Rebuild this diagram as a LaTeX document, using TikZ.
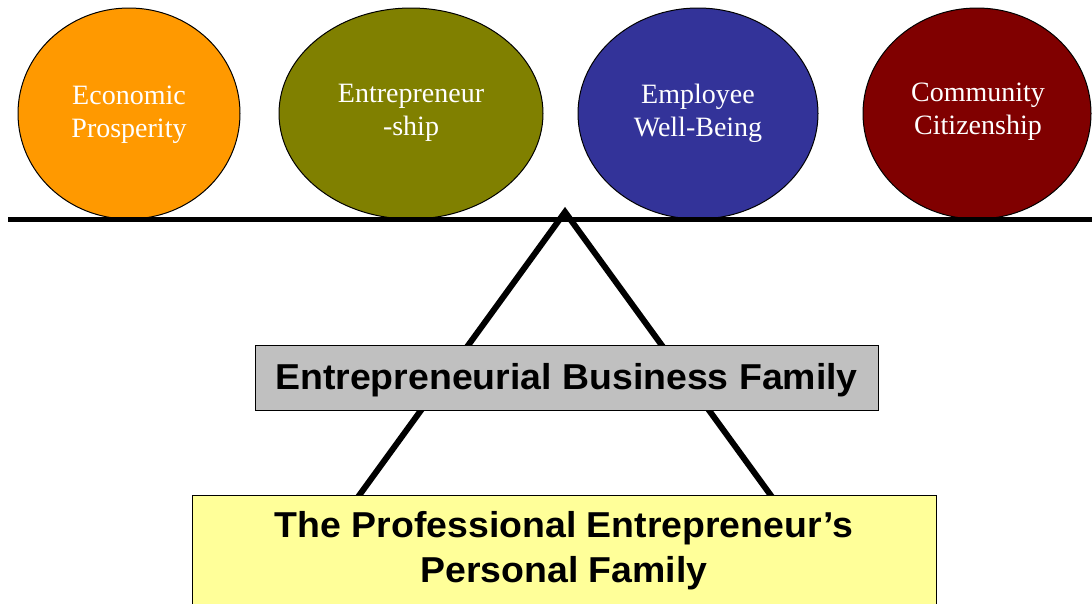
\documentclass[tikz,border=0pt]{standalone}
\usepackage{fontspec}
\setmainfont{Liberation Serif}
\setsansfont{Liberation Sans}
\newfontfamily\boxfont{Liberation Sans Bold}[FakeStretch=1.04]
\usetikzlibrary{shapes.geometric}
\definecolor{corange}{HTML}{FF9900}
\definecolor{colive}{HTML}{808000}
\definecolor{cblue}{HTML}{333399}
\definecolor{cred}{HTML}{800000}
\definecolor{cgray}{HTML}{C0C0C0}
\definecolor{cyellow}{HTML}{FFFF99}
\tikzset{
  ball/.style={ellipse, draw=black, line width=1pt, inner sep=0pt},
  balltext/.style={text=white, font=\fontsize{28}{33}\selectfont, align=center},
  beam/.style={line width=5pt},
  leg/.style={line width=6pt},
  bigbox/.style={draw=black, line width=1pt, inner sep=0pt},
  boxtext/.style={font=\boxfont\fontsize{36}{45}\selectfont, align=center}
}
\begin{document}
\begin{tikzpicture}[x=1pt,y=-1pt]
\useasboundingbox (0,0) rectangle (1092,603);
% balls
\node[ball, fill=corange, minimum width=222pt, minimum height=211pt] (b1) at (129,113.5) {};
\node[ball, fill=colive, minimum width=264pt, minimum height=211pt] (b2) at (411,113.5) {};
\node[ball, fill=cblue, minimum width=240pt, minimum height=211pt] (b3) at (698,113.5) {};
\node[ball, fill=cred, minimum width=228pt, minimum height=211pt] (b4) at (977,113.5) {};
\node[balltext] (t1) at (129,115) {Economic\\Prosperity};
\node[balltext] (t2) at (411,113) {Entrepreneur\\-ship};
\node[balltext] (t3) at (698,113) {Employee\\Well-Being};
\node[balltext] (t4) at (978,112) {Community\\Citizenship};
% beam
\coordinate (bl) at (8,219);
\coordinate (br) at (1092,219);
\draw[beam] (bl) -- (br);
% fulcrum
\coordinate (apex) at (565,212);
\coordinate (fl) at (358,497);
\coordinate (fr) at (772,497);
\draw[leg, line join=miter] (fl) -- (apex) -- (fr);
% boxes
\node[bigbox, fill=cgray, minimum width=623pt, minimum height=65pt] (gbox) at (566.5,377.5) {};
\node[boxtext] (gtext) at (566.5,380) {Entrepreneurial Business Family};
\node[bigbox, fill=cyellow, minimum width=744pt, minimum height=120pt, anchor=north] (ybox) at (564,495) {};
\node[boxtext] (ytext) at (564,551) {The Professional Entrepreneur’s\\Personal Family};
\end{tikzpicture}
\end{document}
